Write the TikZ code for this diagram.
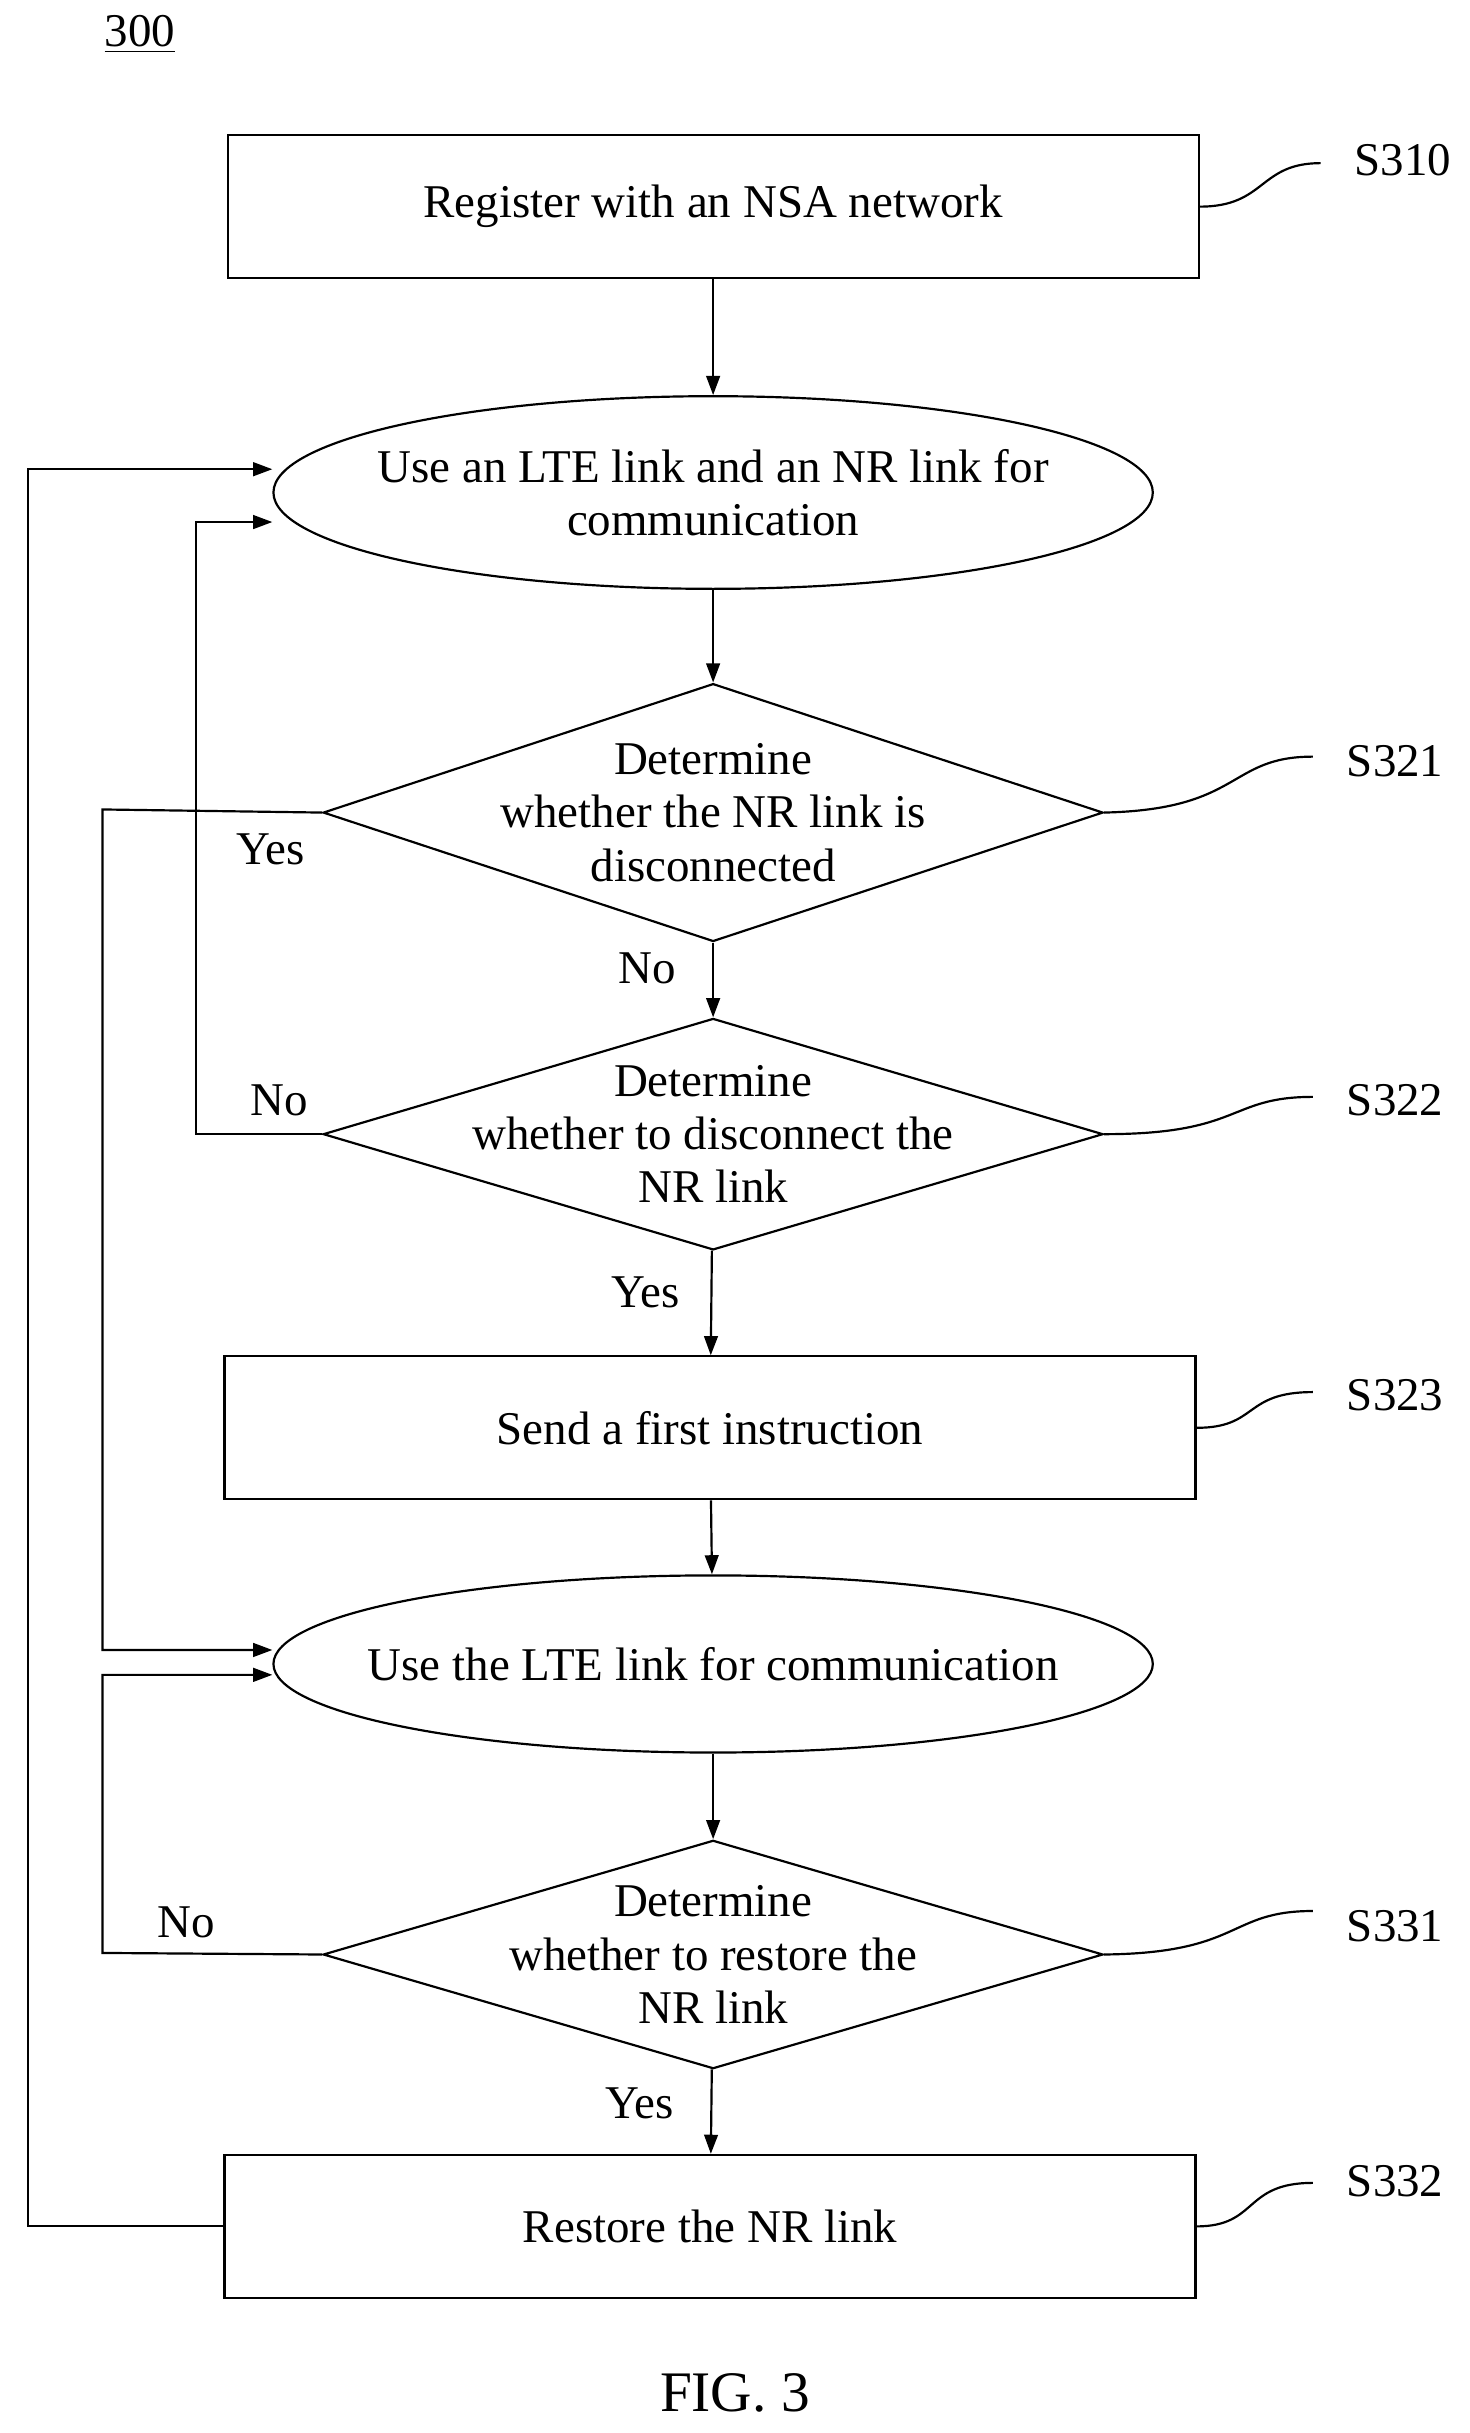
\documentclass[tikz,border=0pt]{standalone}
\usepackage{fontspec}
\setmainfont{Liberation Serif}
\usetikzlibrary{arrows.meta,shapes.geometric}

\begin{document}
\begin{tikzpicture}[x=0.02cm,y=-0.02cm,font=\fontsize{17.2}{19.5}\selectfont]
    \tikzstyle{stepbox} = [draw,line width=0.8pt,minimum width=625*0.02cm,minimum height=92*0.02cm]
    \tikzstyle{oval} = [draw,line width=0.8pt,ellipse,minimum width=566*0.02cm]
    \tikzstyle{test} = [draw,line width=0.8pt,diamond,inner sep=0pt,aspect=3,minimum width=502*0.02cm]
    \tikzstyle{txt} = [align=center]
    \tikzstyle{flow} = [line width=0.8pt,-{Triangle[length=7pt,width=5pt]}]
    \tikzstyle{wire} = [line width=0.8pt]
    \useasboundingbox (0,0) rectangle (946,1566);

    \node (fig) at (90,22) {\underline{300}};

    % boxes, ovals and tests
    \node[stepbox] (s310) at (459,133) {Register with an NSA network};
    \node[oval,minimum height=124*0.02cm] (lte_nr) at (459,317) {};
    \node[txt] at (lte_nr) {Use an LTE link and an NR link for\\communication};
    \node[test,minimum height=166*0.02cm] (s321) at (459,523) {};
    \node[txt] at (s321) {Determine\\whether the NR link is\\disconnected};
    \node[test,minimum height=149*0.02cm] (s322) at (459,730) {};
    \node[txt] at (s322) {Determine\\whether to disconnect the\\NR link};
    \node[stepbox] (s323) at (457,919) {Send a first instruction};
    \node[oval,minimum height=114*0.02cm] (lte) at (459,1071) {};
    \node[txt] at (lte) {Use the LTE link for communication};
    \node[test,minimum height=147*0.02cm] (s331) at (459,1258) {};
    \node[txt] at (s331) {Determine\\whether to restore the\\NR link};
    \node[stepbox] (s332) at (457,1433) {Restore the NR link};

    % main line
    \draw[flow] (s310) -- (lte_nr);
    \draw[flow] (lte_nr) -- (s321);
    \draw[flow] (s321) -- node[left,pos=0.35,xshift=-10pt] {No} (s322);
    \draw[flow] (s322) -- node[left,pos=0.4,xshift=-8pt] {Yes} (s323);
    \draw[flow] (s323) -- (lte);
    \draw[flow] (lte) -- (s331);
    \draw[flow] (s331) -- node[left,pos=0.4,xshift=-10pt] {Yes} (s332);

    % loops on the left
    \draw[flow] (s321.west) -- (66,521) |- (lte.west |- 0,1062);
    \node at (174,547) {Yes};
    \draw[flow] (s322.west) -- (126,730) |- (lte_nr.west |- 0,336);
    \node at (180,708) {No};
    \draw[flow] (s331.west) -- (66,1257) |- (lte.west |- 0,1078);
    \node at (120,1237) {No};
    \draw[flow] (s332.west) -- (18,1433) |- (lte_nr.west |- 0,302);

    % step labels
    \coordinate (c310) at (850,105);
    \coordinate (c321) at (845,487);
    \coordinate (c322) at (845,706);
    \coordinate (c323) at (845,896);
    \coordinate (c331) at (845,1230);
    \coordinate (c332) at (845,1405);
    \draw[wire] (s310.east) .. controls (815,133) and (810,105) .. (c310);
    \draw[wire] (s321.east) .. controls (800,521) and (790,487) .. (c321);
    \draw[wire] (s322.east) .. controls (800,730) and (790,706) .. (c322);
    \draw[wire] (s323.east) .. controls (810,919) and (800,896) .. (c323);
    \draw[wire] (s331.east) .. controls (800,1257) and (790,1230) .. (c331);
    \draw[wire] (s332.east) .. controls (810,1433) and (800,1405) .. (c332);
    \node at (903,103) {S310};
    \node at (898,490) {S321};
    \node at (898,708) {S322};
    \node at (898,898) {S323};
    \node at (898,1240) {S331};
    \node at (898,1404) {S332};

    \node at (473,1540) {\fontsize{21}{24}\selectfont FIG. 3};
\end{tikzpicture}
\end{document}
